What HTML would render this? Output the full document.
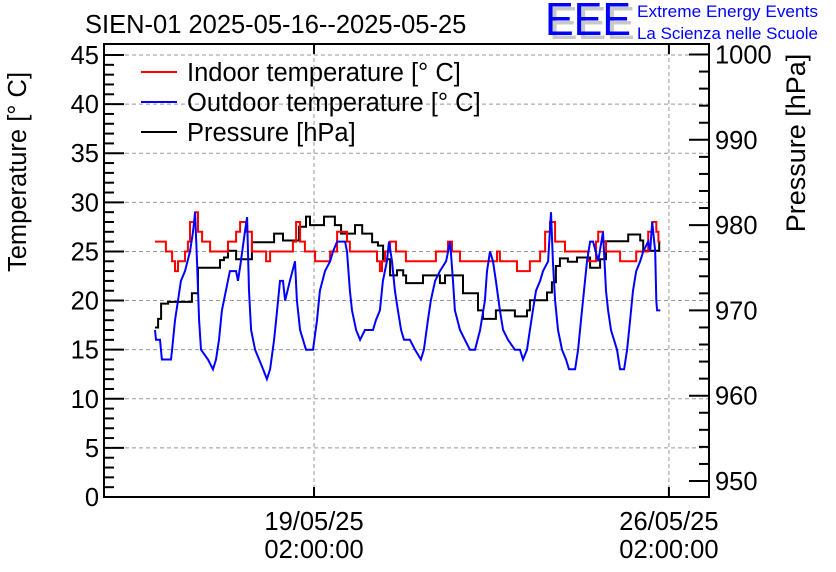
<!DOCTYPE html>
<html><head><meta charset="utf-8"><style>
body{margin:0;background:#fff;}
svg{display:block;font-family:"Liberation Sans",Arial,sans-serif;}
</style></head><body>
<svg id="chart" width="836" height="572" viewBox="0 0 836 572">
<rect width="836" height="572" fill="#fff"/>
<text x="85" y="33" font-size="25.5">SIEN-01 2025-05-16--2025-05-25</text>
<g>
<text x="549" y="39" font-size="46" fill="#c8c8c8" textLength="86" lengthAdjust="spacingAndGlyphs">EEE</text>
<text x="545" y="35" font-size="46" fill="#0000ff" textLength="86" lengthAdjust="spacingAndGlyphs">EEE</text>
<text x="637" y="17" font-size="17" fill="#0000ff" textLength="181" lengthAdjust="spacingAndGlyphs">Extreme Energy Events</text>
<text x="637" y="39" font-size="17" fill="#0000ff" textLength="181" lengthAdjust="spacingAndGlyphs">La Scienza nelle Scuole</text>
</g>
<g id="grid"></g>
<g id="series"></g>
<rect x="104" y="44" width="605" height="453" fill="none" stroke="#000" stroke-width="2"/>
<g id="axes"></g>
<text transform="translate(26,172) rotate(-90)" font-size="25.5" text-anchor="middle">Temperature [° C]</text>
<text transform="translate(805,143) rotate(-90)" font-size="27" text-anchor="middle">Pressure [hPa]</text>
<g>
<line x1="141" y1="72" x2="177" y2="72" stroke="#ff0000" stroke-width="2"/>
<text x="187" y="81" font-size="25.5">Indoor temperature [° C]</text>
<line x1="141" y1="102" x2="177" y2="102" stroke="#0000ff" stroke-width="2"/>
<text x="187" y="111" font-size="25.5">Outdoor temperature [° C]</text>
<line x1="141" y1="132" x2="177" y2="132" stroke="#000" stroke-width="2"/>
<text x="187" y="141" font-size="25.5">Pressure [hPa]</text>
</g>
</svg>
<script>
// hours since 2025-05-16 00:00
const outdoorHours=[-1.3,-0.8,1.1,2.0,6.3,6.8,8.2,9.6,11.0,12.9,15.3,16.7,17.7,18.6,19.6,20.5,23.8,26.2,27.6,29.0,30.4,32.3,34.2,37.1,38.0,39.4,41.3,42.3,43.2,44.2,46.1,48.0,49.9,51.7,53.2,55.1,56.5,57.9,59.3,60.3,62.6,65.0,65.9,67.4,70.2,73.5,75.4,76.8,79.2,81.6,83.0,84.9,88.7,89.6,91.0,92.0,93.9,95.8,98.1,101.9,103.3,105.2,106.6,108.5,109.5,110.9,112.3,113.7,115.2,116.6,119.4,121.8,124.6,126.0,127.9,129.3,131.3,133.6,136.5,138.4,139.8,140.7,143.1,145.4,147.8,150.2,152.6,154.9,155.9,157.3,158.7,160.1,162.0,163.5,165.8,169.1,171.5,172.9,174.8,176.2,177.6,179.1,181.0,182.4,184.8,186.2,187.1,188.1,189.5,191.4,193.3,194.7,197.6,199.0,200.4,201.8,203.2,204.7,206.1,208.5,210.8,212.2,213.2,214.6,216.0,217.4,218.9,220.8,222.2,223.6,225.0,226.5,228.4,229.8,232.2,233.1,234.1,235.5,236.0,236.4,237.9];
const outdoorTemp=[17,16,16,14,14,15,18,20,22,23,25,27,29,24,18,15,14,13,14,16,19,21,23,23,22,24,27,28.5,21,17,15,14,13,12,13,16,19,22,22,20,22,24,20,17,15,15,18,21,23,24,25,26,26,25,21,19,17,16,17,17,18,19,22,24,26,24,21,19,17,16,16,15,14,15,18,20,22,23,24,26,22,19,17,16,15,15,17,20,23,25,24,22,19,17,16,15,15,14,15,17,19,21,22,23,24,29,24,20,17,15,14,13,13,15,18,21,24,26,26,24,27,21,19,17,16,15,13,13,15,18,21,23,24,25,26,25,28,25,20,19,19];
const indoorHours=[-1.3,2.5,3.9,6.8,8.2,9.6,12.9,14.3,15.3,17.7,19.1,21.0,24.8,33.3,37.1,39.0,41.8,44.6,51.3,53.2,64.0,65.5,67.4,69.7,74.5,81.6,84.9,89.6,91.0,103.8,105.2,106.2,107.6,110.0,112.8,117.5,131.7,137.4,139.3,143.1,160.6,162.0,170.1,176.2,181.0,183.4,185.7,188.1,192.8,203.7,207.5,208.5,210.8,212.2,218.9,226.5,232.2,234.1,236.0,237.0,237.9];
const indoorTemp=[26,26,25,24,23,24,25,26,28,29,27,26,25,26,27,28,27,25,24,25,26,28,26,25,24,25,27,26,25,24,23,24,25,26,25,24,25,26,25,24,25,24,23,24,25,27,28,26,25,24,26,27,26,25,24,25,27,28,27,26,26];
const pressureHours=[-1.3,0.2,1.6,4.9,16.2,19.1,29.5,31.4,33.3,37.1,44.6,55.1,59.3,66.9,70.2,72.1,78.7,83.9,86.8,93.4,96.8,101.5,104.3,106.7,110.0,113.3,116.2,117.6,125.6,133.6,136.0,144.5,151.6,154.0,160.1,169.1,174.8,176.2,184.3,186.6,188.5,190.4,194.2,198.5,204.7,209.4,212.2,222.7,228.4,229.8,237.4,237.9];
const pressureVal=[968,969,970.8,971,972,975,975.9,976.2,977,976,978,979,978.2,979.8,981,980,981,980,979,980,979,978,977.6,976,974.1,974.7,974.1,973.2,974.1,973.2,974.1,972,970,969,970,969.3,970,971.2,972.1,973.3,975.2,976.1,975.7,976.2,975,976,978.1,978.9,978.2,977,978,978];
const tempTicks=[0,5,10,15,20,25,30,35,40,45];
const pressTicks=[950,960,970,980,990,1000];
const timeTicks=[74,242];
const timeLabels=[["19/05/25","02:00:00"],["26/05/25","02:00:00"]];

const L=104,R=709,T=44,B=497;
const xS=h=>157.7+h*2.1125;
const yT=v=>497-v*9.822;
const yP=p=>481-(p-950)*8.53;
const NS="http://www.w3.org/2000/svg";
function mk(tag,attrs,parent){const e=document.createElementNS(NS,tag);for(const k in attrs)e.setAttribute(k,attrs[k]);parent.appendChild(e);return e;}
const grid=document.getElementById('grid'),axes=document.getElementById('axes'),series=document.getElementById('series');

tempTicks.forEach(v=>{
  const y=yT(v);
  if(v>0){const g=mk('line',{x1:L,x2:R,y1:y,y2:y,stroke:'#999','stroke-dasharray':'4,3','stroke-width':1},grid);
  
  }
  const t=mk('line',{x1:L,x2:L+20,y1:y,y2:y,stroke:'#000','stroke-width':2},axes);
  
  
  const lb=mk('text',{x:99,y:y+9,'font-size':25.5,'text-anchor':'end'},axes);
  lb.textContent=v;
  
  
});
for(let v=1;v<46;v++){ if(v%5===0)continue; const y=yT(v);
  const t=mk('line',{x1:L,x2:L+10,y1:y,y2:y,stroke:'#000','stroke-width':2},axes);
  
  }
pressTicks.forEach(p=>{const y=yP(p);
  const t=mk('line',{x1:R-20,x2:R,y1:y,y2:y,stroke:'#000','stroke-width':2},axes);
  
  
  const lb=mk('text',{x:715,y:y+9,'font-size':25.5},axes);
  lb.textContent=p;
  
  
});
for(let p=950;p<=1000;p+=2){ if(p%10===0)continue; const y=yP(p);
  const t=mk('line',{x1:R-10,x2:R,y1:y,y2:y,stroke:'#000','stroke-width':2},axes);
  
  }
timeTicks.forEach((h,i)=>{const x=xS(h);
  const g=mk('line',{x1:x,x2:x,y1:T,y2:B,stroke:'#999','stroke-dasharray':'4,3','stroke-width':1},grid);
  
  
  const t=mk('line',{x1:x,x2:x,y1:B-10,y2:B,stroke:'#000','stroke-width':2},axes);
  
  
  const t2=mk('line',{x1:x,x2:x,y1:T,y2:T+10,stroke:'#000','stroke-width':2},axes);
  
  
  timeLabels[i].forEach((s,j)=>{const lb=mk('text',{x:x,y:530+j*28,'font-size':25.5,'text-anchor':'middle'},axes);
    lb.textContent=s;
    
    });
});
function stepPath(hs,vs,ys){let d='';for(let i=0;i<hs.length;i++){const x=xS(hs[i]).toFixed(1),y=ys(vs[i]).toFixed(1);
  if(i===0)d+='M'+x+','+y;else d+='H'+x+'V'+y;}return d;}
function linePath(hs,vs,ys){return hs.map((h,i)=>(i?'L':'M')+xS(h).toFixed(1)+','+ys(vs[i]).toFixed(1)).join('');}
const pP=mk('path',{d:stepPath(pressureHours,pressureVal,yP),fill:'none',stroke:'#000','stroke-width':2},series);


const pI=mk('path',{d:stepPath(indoorHours,indoorTemp,yT),fill:'none',stroke:'#ff0000','stroke-width':2},series);


const pO=mk('path',{d:linePath(outdoorHours,outdoorTemp,yT),fill:'none',stroke:'#0000ff','stroke-width':2},series);


</script>
</body></html>
